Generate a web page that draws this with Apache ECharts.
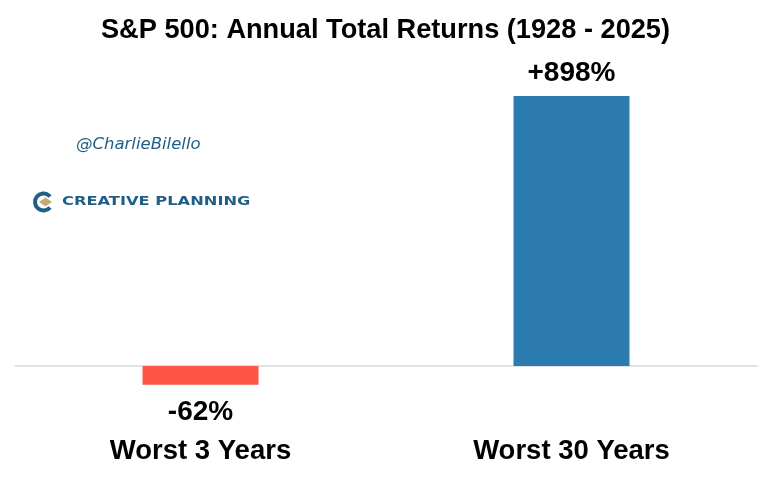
<!DOCTYPE html>
<html>
<head>
<meta charset="utf-8">
<style>html,body{margin:0;padding:0;background:#fff}#chart{width:771px;height:480px}</style>
<script src="https://cdn.jsdelivr.net/npm/echarts@6/dist/echarts.min.js"></script>
</head>
<body>
<div id="chart"></div>
<script>
var categories = ["Worst 3 Years", "Worst 30 Years"];
var returns = [-62, 898];
var barLabels = ["-62%", "+898%"];
var barColors = ["#FF5548", "#2C7BB0"];
var labelGaps = [14, 9];
var FONT = "Liberation Sans";

var chart = echarts.init(document.getElementById("chart"), null, { renderer: "canvas" });

chart.setOption({
  animation: false,
  backgroundColor: "#fff",
  title: {
    text: "S&P 500: Annual Total Returns (1928 - 2025)",
    left: "center",
    top: 17,
    padding: 0,
    textStyle: { fontFamily: FONT, fontSize: 27.2, fontWeight: "bold", color: "#000" }
  },
  grid: { left: 15, right: 14, top: 65.3, height: 330.8, outerBoundsMode: "none" },
  xAxis: {
    type: "category",
    data: categories,
    axisLine: { onZero: true, lineStyle: { color: "#D9D9D9", width: 1.5 } },
    axisTick: { show: false },
    axisLabel: {
      margin: 41,
      color: "#000",
      fontFamily: FONT,
      fontSize: 27.5,
      fontWeight: "bold"
    }
  },
  yAxis: { type: "value", min: -100, max: 1000, show: false, splitLine: { show: false } },
  series: [{
    type: "bar",
    barWidth: 116,
    data: returns.map(function (v, i) {
      return {
        value: v,
        itemStyle: { color: barColors[i] },
        label: { distance: labelGaps[i] }
      };
    }),
    label: {
      show: true,
      position: "outside",
      color: "#000",
      fontFamily: FONT,
      fontSize: 28,
      fontWeight: "bold",
      formatter: function (p) { return barLabels[p.dataIndex]; }
    }
  }],
  graphic: [
    {
      type: "text", left: 76, top: 136,
      style: { text: "@CharlieBilello", fontFamily: "DejaVu Sans", fontStyle: "italic", fontSize: 16.5, fill: "#1F5F85" }
    },
    {
      type: "text", x: 62, y: 195, scaleX: 1.27,
      style: { text: "CREATIVE PLANNING", fontFamily: "DejaVu Sans", fontWeight: "bold", fontSize: 12.8, fill: "#1F5F85" }
    },
    {
      type: "arc",
      shape: { cx: 43.5, cy: 202, r: 8.5, startAngle: Math.PI * 0.22, endAngle: -Math.PI * 0.22, clockwise: true },
      style: { stroke: "#1F5F85", lineWidth: 4, fill: null }
    },
    {
      type: "polygon",
      shape: { points: [[45.5, 197.5], [52, 202], [45.5, 206.5], [39, 202]] },
      style: { fill: "#C8A97E" }
    }
  ]
});
</script>
</body>
</html>
